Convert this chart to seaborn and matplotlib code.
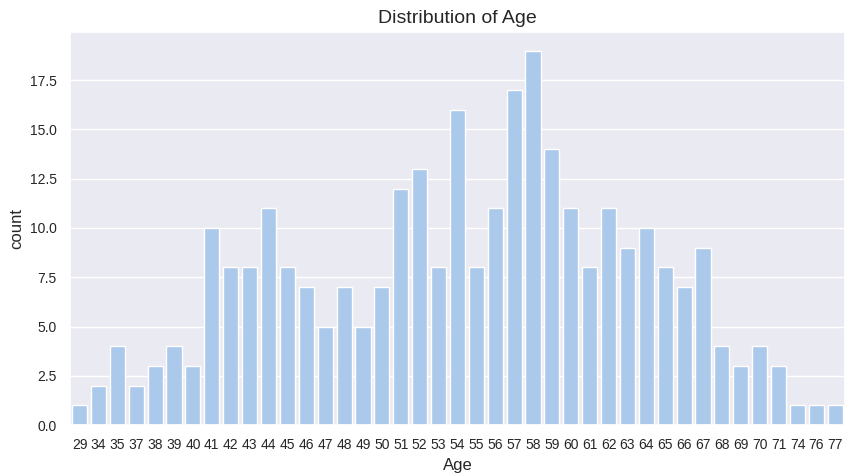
import matplotlib
matplotlib.use("Agg")
import matplotlib.pyplot as plt
import seaborn as sns

ages = [29, 34, 35, 37, 38, 39, 40, 41, 42, 43, 44, 45, 46, 47, 48, 49, 50,
        51, 52, 53, 54, 55, 56, 57, 58, 59, 60, 61, 62, 63, 64, 65, 66, 67,
        68, 69, 70, 71, 74, 76, 77]
counts = [1, 2, 4, 2, 3, 4, 3, 10, 8, 8, 11, 8, 7, 5, 7, 5, 7,
          12, 13, 8, 16, 8, 11, 17, 19, 14, 11, 8, 11, 9, 10, 8, 7, 9,
          4, 3, 4, 3, 1, 1, 1]

sns.set_theme(style="darkgrid")
plt.rcParams['font.family'] = ['Liberation Sans', 'DejaVu Sans']
fig, ax = plt.subplots(figsize=(8.55, 4.75), dpi=100)
fig.subplots_adjust(left=0.082, right=0.988, top=0.933, bottom=0.105)

sns.barplot(x=[str(a) for a in ages], y=counts, color=sns.color_palette("pastel")[0], ax=ax)
ax.set_title("Distribution of Age", fontsize=14)
ax.set_xlabel("Age", fontsize=12)
ax.set_ylabel("count", fontsize=12)
ax.tick_params(labelsize=10)

fig.savefig("out.png", dpi=100)
